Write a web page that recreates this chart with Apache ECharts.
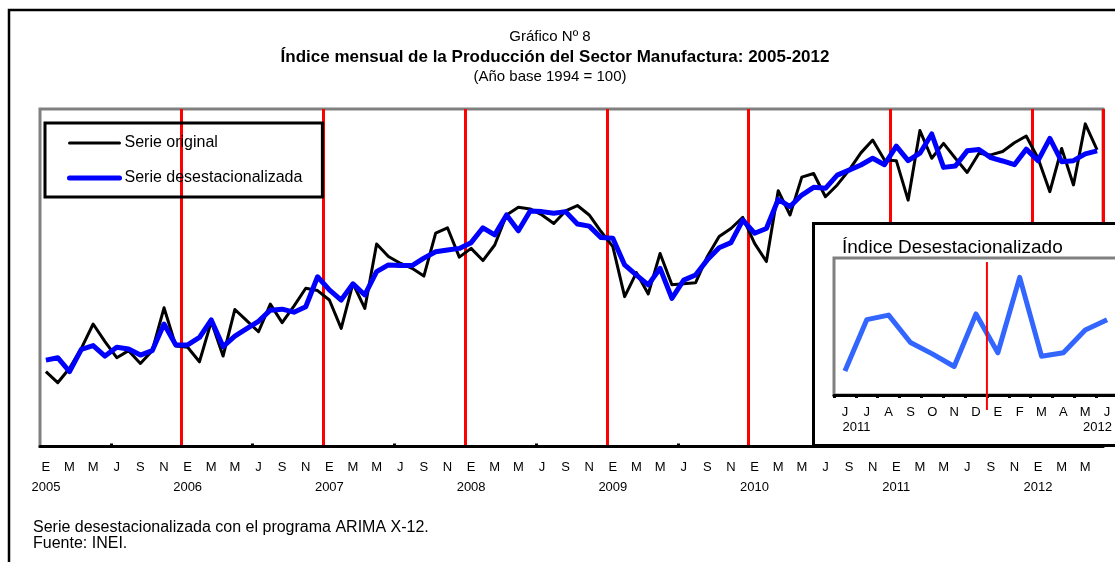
<!DOCTYPE html>
<html>
<head>
<meta charset="utf-8">
<script src="https://cdn.jsdelivr.net/npm/echarts@6/dist/echarts.min.js"></script>
<style>
  html, body { margin: 0; padding: 0; background: #fff; }
  #chart { width: 1115px; height: 562px; }
</style>
</head>
<body>
<div id="chart"></div>
<script>
// meses en castellano (E = enero ... D = diciembre)
var meses = ['E', 'F', 'M', 'A', 'M', 'J', 'J', 'A', 'S', 'O', 'N', 'D'];
var anios = [2005, 2006, 2007, 2008, 2009, 2010, 2011, 2012];

// ene 2005 - jun 2012 (90 meses), indice 1994 = 100
var serieOriginal = [
  122.2, 118.9, 123.2, 129.1, 136.3, 131.1, 126.3, 128.4, 124.6, 128.4, 141.1, 129.8,
  129.4, 125.1, 137.0, 126.8, 140.6, 137.3, 134.0, 142.2, 136.7, 141.6, 146.9, 146.2,
  143.4, 135.0, 148.3, 140.9, 160.0, 156.3, 154.3, 152.8, 150.5, 163.2, 164.8, 156.1,
  158.7, 155.1, 159.7, 168.6, 170.9, 170.4, 168.6, 166.1, 169.8, 171.4, 168.6, 163.7,
  159.2, 144.4, 151.5, 145.2, 157.2, 147.9, 148.2, 148.5, 156.3, 162.2, 164.6, 167.9,
  160.2, 154.8, 175.8, 168.6, 179.8, 180.9, 174.0, 177.5, 181.9, 187.0, 190.8, 184.9,
  184.7, 173.0, 193.6, 185.4, 189.8, 185.4, 181.2, 186.9, 186.4, 187.4, 190.0, 192.0,
  185.4, 175.5, 188.3, 177.5, 195.6, 187.9
];
var serieDesest = [
  125.6, 126.3, 122.2, 128.8, 129.9, 126.8, 129.4, 128.9, 127.1, 128.4, 136.3, 130.1,
  130.1, 132.3, 137.5, 129.6, 132.7, 134.9, 137.1, 140.4, 140.7, 139.8, 141.4, 150.3,
  146.4, 143.4, 148.2, 144.9, 151.8, 153.8, 153.6, 153.6, 155.8, 157.7, 158.2, 158.7,
  160.4, 164.8, 162.7, 168.6, 163.9, 169.8, 169.6, 169.1, 169.6, 165.9, 165.3, 161.9,
  161.7, 153.8, 150.8, 147.9, 152.8, 143.9, 149.3, 150.8, 155.3, 158.9, 160.4, 167.1,
  163.2, 164.6, 173.2, 171.1, 174.5, 176.8, 176.5, 180.4, 181.9, 183.4, 185.4, 183.5,
  189.0, 184.7, 186.9, 192.6, 182.7, 183.1, 187.6, 188.0, 185.6, 184.6, 183.5, 188.1,
  184.7, 191.3, 184.4, 184.7, 186.7, 187.6
];

// recuadro: jun 2011 - jun 2012
var desdeRecuadro = 77;
var mesesRecuadro = ['J', 'J', 'A', 'S', 'O', 'N', 'D', 'E', 'F', 'M', 'A', 'M', 'J'];

var categorias = [];
for (var i = 0; i < serieOriginal.length; i++) {
  categorias.push(meses[i % 12] + ' ' + anios[Math.floor(i / 12)]);
}
var categoriasRecuadro = categorias.slice(desdeRecuadro);

var fNarrow = '"Liberation Sans Narrow", "Liberation Sans", Arial, sans-serif';
var fSans = '"Liberation Sans", Arial, sans-serif';

function texto(x, y, t, size, extra) {
  var st = {
    text: t, x: 0, y: 0, fill: '#000',
    fontFamily: (extra && extra.family) || fSans,
    fontSize: size,
    fontWeight: (extra && extra.weight) || 'normal',
    align: (extra && extra.align) || 'left',
    verticalAlign: 'middle'
  };
  return { type: 'text', x: x, y: y, z: 20, style: st };
}

var chart = echarts.init(document.getElementById('chart'));

var option = {
  animation: false,
  backgroundColor: '#fff',
  legend: {
    orient: 'vertical',
    left: 45,
    top: 123,
    padding: [12, 20, 11, 22],
    itemWidth: 50,
    itemHeight: 14,
    itemGap: 19,
    borderColor: '#000',
    borderWidth: 3,
    textStyle: { fontFamily: fSans, fontSize: 16, color: '#000' },
    data: [
      { name: 'Serie original',
        lineStyle: { width: 3, color: '#000', cap: 'round' },
        itemStyle: { opacity: 0 } },
      { name: 'Serie desestacionalizada',
        lineStyle: { width: 5, color: '#0000ff', cap: 'round' },
        itemStyle: { opacity: 0 } }
    ]
  },
  grid: [
    { left: 40, right: 12, top: 109, bottom: 115.5, show: true, borderColor: '#808080', borderWidth: 3, outerBoundsMode: 'none', z: 0 },
    { left: 834, top: 258, width: 284, height: 137, show: true, borderColor: '#808080', borderWidth: 3, outerBoundsMode: 'none', z: 5 }
  ],
  xAxis: [
    {
      type: 'category', gridIndex: 0, data: categorias, boundaryGap: true,
      axisLine: { lineStyle: { color: '#000', width: 3 } },
      axisTick: {
        show: true, inside: true, length: 3,
        interval: function (idx) { return idx % 12 === 6; },
        lineStyle: { color: '#000', width: 3 }
      },
      axisLabel: {
        interval: 1, margin: 11, color: '#000', fontFamily: fNarrow, fontSize: 13, lineHeight: 20,
        formatter: function (v, idx) {
          var m = meses[idx % 12];
          return idx % 12 === 0 ? m + '\n' + anios[idx / 12] : m;
        }
      },
      splitLine: {
        show: true,
        interval: function (idx) { return idx > 0 && idx % 12 === 0; },
        lineStyle: { color: '#ff0000', width: 3 }
      }
    },
    {
      type: 'category', gridIndex: 1, data: categoriasRecuadro, boundaryGap: true, z: 5,
      axisLine: { lineStyle: { color: '#000', width: 3 } },
      axisTick: { show: true, length: 3, lineStyle: { color: '#000', width: 3 } },
      axisLabel: {
        interval: 0, margin: 10, color: '#000', fontFamily: fSans, fontSize: 13, lineHeight: 15,
        formatter: function (v, idx) {
          var m = mesesRecuadro[idx];
          if (idx === 0) return m + '\n{a|' + anios[6] + '}';
          if (idx === mesesRecuadro.length - 1) return m + '\n{b|' + anios[7] + '}';
          return m;
        },
        rich: {
          a: { fontFamily: fSans, fontSize: 13, color: '#000', padding: [0, 0, 0, 23] },
          b: { fontFamily: fSans, fontSize: 13, color: '#000', padding: [0, 19, 0, 0] }
        }
      },
      splitLine: { show: false }
    }
  ],
  yAxis: [
    { type: 'value', gridIndex: 0, min: 100, max: 200, show: false, splitLine: { show: false } },
    { type: 'value', gridIndex: 1, min: 181, max: 193, show: false, splitLine: { show: false } }
  ],
  series: [
    {
      name: 'Serie original', type: 'line', xAxisIndex: 0, yAxisIndex: 0,
      data: serieOriginal, symbol: 'none', z: 2,
      lineStyle: { color: '#000', width: 3, join: 'round' },
      itemStyle: { color: '#000' }
    },
    {
      name: 'Serie desestacionalizada', type: 'line', xAxisIndex: 0, yAxisIndex: 0,
      data: serieDesest, symbol: 'none', z: 3,
      lineStyle: { color: '#0000ff', width: 5, join: 'round' },
      itemStyle: { color: '#0000ff' }
    },
    {
      name: 'Índice Desestacionalizado', type: 'line', xAxisIndex: 1, yAxisIndex: 1,
      data: serieDesest.slice(desdeRecuadro), symbol: 'none', z: 8,
      lineStyle: { color: '#3366ff', width: 5, join: 'round' },
      itemStyle: { color: '#3366ff' }
    }
  ],
  graphic: [
    { type: 'rect', id: 'marco', z: 20, shape: { x: 9, y: 10, width: 1400, height: 1000 },
      style: { fill: 'none', stroke: '#000', lineWidth: 2.5 } },
    { type: 'rect', id: 'caja', z: 1, shape: { x: 813.5, y: 223.5, width: 400, height: 222 },
      style: { fill: '#fff', stroke: '#000', lineWidth: 3 } },
    texto(550, 37, 'Gráfico Nº 8', 15, { family: fNarrow, align: 'center' }),
    texto(555, 57, 'Índice mensual de la Producción del Sector Manufactura: 2005-2012', 17, { family: fNarrow, weight: 'bold', align: 'center' }),
    texto(550, 77, '(Año base 1994 = 100)', 15, { family: fNarrow, align: 'center' }),
    texto(842, 248, 'Índice Desestacionalizado', 19, {}),
    texto(33, 528, 'Serie desestacionalizada con el programa ARIMA X-12.', 16, {}),
    texto(33, 544, 'Fuente: INEI.', 16, {})
  ]
};

chart.setOption(option);

// linea roja del recuadro entre dic 2011 y ene 2012
var xD = chart.convertToPixel({ xAxisIndex: 1 }, 6);
var xE = chart.convertToPixel({ xAxisIndex: 1 }, 7);
var xSep = (xD + xE) / 2;
chart.setOption({
  graphic: [
    { type: 'line', id: 'corte', z: 9, shape: { x1: xSep, y1: 262, x2: xSep, y2: 410 },
      style: { stroke: '#ff0000', lineWidth: 2 } }
  ]
});
</script>
</body>
</html>
